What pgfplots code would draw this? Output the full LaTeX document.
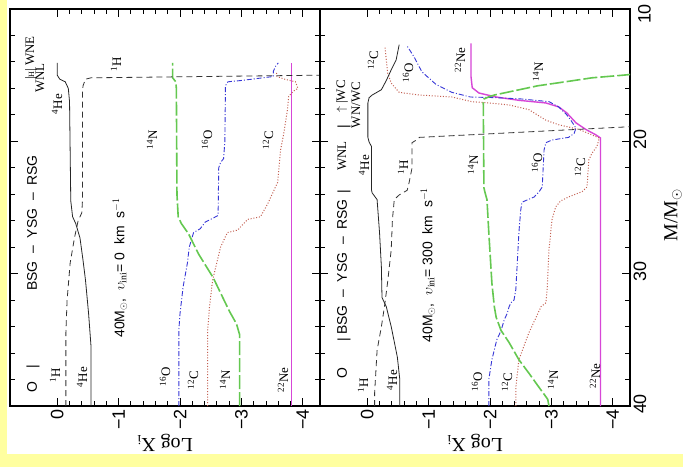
\documentclass[border=0pt]{standalone}
\usepackage{pgfplots}
\pgfplotsset{compat=1.18}
\usepackage{fontspec}
\setmainfont{Liberation Serif}
\setsansfont{Liberation Sans}
\definecolor{cN}{RGB}{100,200,80}
\definecolor{cO}{RGB}{55,55,215}
\definecolor{cC}{RGB}{195,95,80}
\definecolor{cNe}{RGB}{215,70,215}
\definecolor{yel}{RGB}{255,255,160}
\newcommand{\iso}[2]{\textsuperscript{#1}#2}
\tikzset{
 lab/.style={rotate=90, font=\fontsize{13}{13}\selectfont, inner sep=0pt},
 phs/.style={rotate=90, font=\sffamily\fontsize{14}{14}\selectfont, inner sep=0pt},
 sH/.style={black!80, line width=0.8bp, dash pattern=on 6bp off 4bp},
 sHe/.style={black!85, line width=0.8bp},
 sN/.style={cN, line width=1.6bp, dash pattern=on 14bp off 3bp},
 sO/.style={cO, line width=0.9bp, dash pattern=on 5bp off 2bp on 1bp off 2bp},
 sC/.style={cC, line width=1bp, dash pattern=on 1bp off 1.8bp},
 sNe/.style={cNe, line width=1.4bp}
}
\pgfplotsset{panel/.style={
 scale only axis, width=310bp, height=397bp,
 xmin=-4.28, xmax=0.77, x dir=reverse,
 ymin=10, ymax=40, y dir=reverse,
 xtick={0,-1,-2,-3,-4}, xticklabels={0,−1,−2,−3,−4},
 minor x tick num=4,
 ytick={10,20,30,40}, minor y tick num=4,
 tick align=inside, major tick length=8bp, minor tick length=5bp,
 every tick/.style={black, line width=0.9bp},
 axis line style={line width=1.2bp},
 xticklabel style={rotate=90, anchor=east, font=\sffamily\fontsize{18}{18}\selectfont},
}}
\begin{document}
\begin{tikzpicture}
\useasboundingbox (0,0) rectangle (683bp,-467bp);
\fill[yel] (0,0) rectangle (683bp,-467bp);
\fill[white] (7bp,0) rectangle (683bp,-454bp);

% ---------------- left panel: v_ini = 0
\begin{axis}[panel, at={(10bp,-406bp)}, anchor=south west, yticklabels={}]
\addplot[sNe] coordinates {(-3.82,40) (-3.82,14.07)};
\addplot[sC] coordinates {(-2.45,40) (-2.45,34.3) (-2.48,32.5) (-2.53,30.5) (-2.66,28.0) (-2.77,26.9) (-2.94,26.7) (-3.10,25.9) (-3.31,25.7) (-3.43,24.7) (-3.59,23.1) (-3.64,20.6) (-3.69,19.4) (-3.75,17.6) (-3.77,16.6) (-3.85,16.2) (-3.92,16.0) (-3.88,15.5) (-3.70,15.3) (-3.58,15.1) (-3.57,14.8)};
\addplot[sO] coordinates {(-1.98,40) (-1.98,34.3) (-2.00,33.0) (-2.05,31.0) (-2.12,29.2) (-2.15,28.0) (-2.22,26.9) (-2.33,26.6) (-2.41,26.1) (-2.54,25.8) (-2.62,25.6) (-2.63,22.0) (-2.66,21.6) (-2.71,21.3) (-2.73,20.0) (-2.74,15.8) (-2.78,15.5) (-3.0,15.4) (-3.52,15.1) (-3.52,14.7) (-3.56,14.3) (-3.60,14.07)};
\addplot[sN] coordinates {(-2.97,40) (-2.97,34.6) (-2.92,33.8) (-2.80,32.8) (-2.54,30.3) (-2.30,28.5) (-2.14,27.0) (-2.02,26.2) (-1.97,25.7) (-1.95,24.0) (-1.94,16.0) (-1.93,15.5) (-1.88,15.2) (-1.88,14.07)};
\addplot[sHe] coordinates {(-0.55,40) (-0.55,35.5) (-0.51,33.0) (-0.46,30.5) (-0.42,29.0) (-0.37,27.3) (-0.30,26.2) (-0.25,25.7) (-0.22,24.5) (-0.20,17.0) (-0.18,16.0) (-0.13,15.5) (-0.04,15.3) (0.0,15.0) (0.0,14.07)};
\addplot[sH] coordinates {(-0.14,40) (-0.14,34.5) (-0.16,32.0) (-0.21,29.2) (-0.28,27.3) (-0.34,26.0) (-0.40,25.4) (-0.41,24.5) (-0.41,16.2) (-0.42,15.8) (-0.46,15.3) (-0.55,15.2) (-4.3,15.0) (-4.5,14.99)};
\end{axis}

% ---------------- right panel: v_ini = 300
\begin{axis}[panel, at={(320bp,-406bp)}, anchor=south west,
 ytick pos=both, yticklabel pos=right,
 yticklabels={,20,30,40},
 yticklabel style={rotate=90, anchor=north, xshift=2bp, font=\sffamily\fontsize{18}{18}\selectfont}]
\addplot[sNe] coordinates {(-3.80,40) (-3.80,19.75) (-3.72,19.5) (-3.56,19.1) (-3.40,18.6) (-3.25,17.85) (-3.12,17.4) (-2.91,17.1) (-2.47,16.9) (-2.10,16.65) (-1.82,16.35) (-1.71,15.95) (-1.69,15.1) (-1.69,12.6)};
\addplot[sC] coordinates {(-2.42,40) (-2.42,38.6) (-2.47,36.5) (-2.55,35.5) (-2.63,34.5) (-2.75,33.3) (-2.83,32.5) (-2.91,32.2) (-2.93,31.2) (-2.96,28.2) (-3.01,25.9) (-3.07,24.95) (-3.15,24.5) (-3.28,24.2) (-3.50,23.8) (-3.58,23.45) (-3.61,21.4) (-3.66,20.9) (-3.74,20.4) (-3.78,19.75) (-3.45,19.1) (-3.12,18.75) (-2.91,18.4) (-2.63,17.6) (-2.31,17.25) (-1.98,17.1) (-1.70,17.0) (-1.38,16.65) (-0.85,16.5) (-0.52,16.3) (-0.39,15.6) (-0.33,14.8) (-0.31,13.85) (-0.29,12.85)};
\addplot[sO] coordinates {(-1.98,40) (-1.98,38.0) (-2.03,36.5) (-2.11,35.0) (-2.18,34.3) (-2.23,33.5) (-2.28,33.0) (-2.31,32.5) (-2.34,32.2) (-2.39,32.0) (-2.42,31.2) (-2.44,29.5) (-2.47,26.9) (-2.50,25.2) (-2.52,24.6) (-2.72,24.2) (-2.80,23.8) (-2.85,23.45) (-2.88,20.65) (-2.91,20.1) (-3.01,19.9) (-3.28,19.7) (-3.37,19.4) (-3.40,19.0) (-3.33,18.5) (-3.25,18.0) (-3.12,17.4) (-2.96,17.0) (-2.52,16.8) (-2.10,16.7) (-1.68,16.65) (-1.38,16.3) (-1.12,15.7) (-0.89,14.75) (-0.76,13.6) (-0.65,12.8)};
\addplot[sN] coordinates {(-2.96,40) (-2.94,39.5) (-2.91,39.3) (-2.80,38.6) (-2.63,37.5) (-2.47,36.5) (-2.31,35.2) (-2.18,34.3) (-2.10,33.3) (-2.07,32.5) (-2.03,30.7) (-1.98,26.9) (-1.95,24.4) (-1.92,23.9) (-1.90,23.5) (-1.89,17.1) (-1.90,16.8) (-2.0,16.6) (-2.07,16.5) (-2.78,15.8) (-3.30,15.45) (-3.66,15.2) (-4.17,15.0) (-4.5,14.85)};
\addplot[sHe] coordinates {(-0.53,40) (-0.53,38.0) (-0.49,36.3) (-0.39,34.0) (-0.31,32.5) (-0.28,32.2) (-0.24,31.8) (-0.23,29.5) (-0.20,26.9) (-0.16,24.4) (-0.08,23.9) (-0.07,23.7) (-0.07,20.4) (-0.03,20.05) (-0.01,19.7) (-0.01,17.1) (-0.03,16.7) (-0.08,16.5) (-0.23,16.1) (-0.31,15.4) (-0.39,14.6) (-0.47,13.85) (-0.52,12.7)};
\addplot[sH] coordinates {(-0.12,40) (-0.12,39.0) (-0.16,35.8) (-0.23,34.0) (-0.28,32.5) (-0.33,30.7) (-0.39,28.2) (-0.41,25.9) (-0.44,24.4) (-0.52,24.05) (-0.65,23.7) (-0.68,23.15) (-0.73,22.0) (-0.73,20.1) (-0.80,19.9) (-0.85,19.7) (-4.26,18.9) (-4.5,18.85)};
\end{axis}

% ---------------- axis titles and the top tick label
\node[rotate=90, font=\sffamily\fontsize{18}{18}\selectfont, inner sep=0pt] at (644.5bp,-14bp) {10};
\node[rotate=180, font=\fontsize{20}{20}\selectfont] at (165bp,-443bp) {Log X\textsubscript{i}};
\node[rotate=180, font=\fontsize{20}{20}\selectfont] at (475bp,-443bp) {Log X\textsubscript{i}};
\node[rotate=90, font=\fontsize{20}{20}\selectfont, inner sep=0pt] at (673bp,-215bp) {M/M$_\odot$};

% ---------------- left panel texts
\node[phs] at (32bp,-387bp) {O};
\node[phs] at (33bp,-367bp) {|};
\node[phs] at (32bp,-223bp) {BSG\ \ –\ \ YSG\ \ –\ \ RSG};
\node[lab] at (31bp,-58bp) {|{\fontsize{8}{8}\selectfont H}|\ WNE};
\node[lab] at (40bp,-78bp) {WNL};
\node[phs] at (120bp,-268bp) {40M$_\odot$,\ \ $\upsilon_{\mathrm{ini}}$=\ 0\ \ km\ \ s$^{-1}$};
\node[lab] at (57bp,-104bp) {\iso{4}{He}};
\node[lab] at (116bp,-64bp) {\iso{1}{H}};
\node[lab] at (152bp,-140bp) {\iso{14}{N}};
\node[lab] at (207bp,-140bp) {\iso{16}{O}};
\node[lab] at (268bp,-140bp) {\iso{12}{C}};
\node[lab] at (55bp,-375bp) {\iso{1}{H}};
\node[lab] at (82bp,-377bp) {\iso{4}{He}};
\node[lab] at (165bp,-377bp) {\iso{16}{O}};
\node[lab] at (193bp,-380bp) {\iso{12}{C}};
\node[lab] at (225bp,-380bp) {\iso{14}{N}};
\node[lab] at (283bp,-380bp) {\iso{22}{Ne}};

% ---------------- right panel texts
\node[phs] at (342bp,-373bp) {O};
\node[phs] at (344bp,-340bp) {|};
\node[phs] at (342bp,-267bp) {BSG\ \ –\ \ YSG\ \ –\ \ RSG};
\node[phs] at (344bp,-192bp) {|};
\node[lab] at (342bp,-156bp) {WNL};
\node[phs] at (344bp,-127bp) {|};
\node[lab] at (342bp,-110bp) {$\uparrow$};
\node[lab] at (342bp,-92bp) {|WC};
\node[lab] at (356bp,-105bp) {WN/WC};
\node[phs] at (428bp,-265bp) {40M$_\odot$,\ \ $\upsilon_{\mathrm{ini}}$=\ 300\ \ km\ \ s$^{-1}$};
\node[lab] at (373bp,-60bp) {\iso{12}{C}};
\node[lab] at (408bp,-73bp) {\iso{16}{O}};
\node[lab] at (460bp,-60bp) {\iso{22}{Ne}};
\node[lab] at (538bp,-72bp) {\iso{14}{N}};
\node[lab] at (364bp,-165bp) {\iso{4}{He}};
\node[lab] at (403bp,-167bp) {\iso{1}{H}};
\node[lab] at (473bp,-165bp) {\iso{14}{N}};
\node[lab] at (537bp,-163bp) {\iso{16}{O}};
\node[lab] at (580bp,-167bp) {\iso{12}{C}};
\node[lab] at (363bp,-385bp) {\iso{1}{H}};
\node[lab] at (392bp,-380bp) {\iso{4}{He}};
\node[lab] at (477bp,-382bp) {\iso{16}{O}};
\node[lab] at (507bp,-382bp) {\iso{12}{C}};
\node[lab] at (553bp,-380bp) {\iso{14}{N}};
\node[lab] at (595bp,-376bp) {\iso{22}{Ne}};
\end{tikzpicture}
\end{document}
